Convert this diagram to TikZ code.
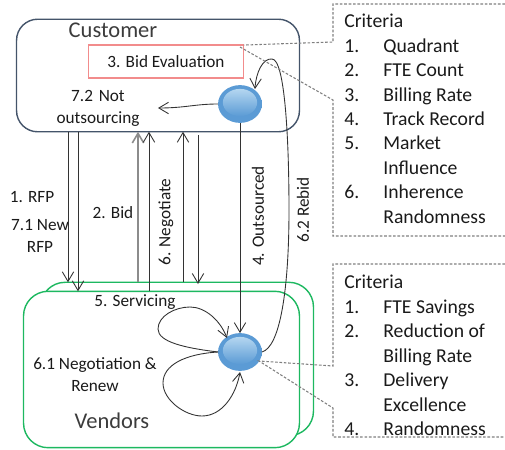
\documentclass[tikz,border=0pt]{standalone}
\usepackage{fontspec}
\setmainfont{Carlito}
\usetikzlibrary{arrows.meta, shapes.geometric}
\definecolor{custline}{HTML}{44546A}
\definecolor{vendline}{HTML}{1DB860}
\definecolor{bidline}{HTML}{F28C8C}
\definecolor{callline}{HTML}{7F7F7F}
\definecolor{txt}{HTML}{1A1A1A}
\definecolor{ballmid}{HTML}{5B9BD5}
\definecolor{ballrim}{HTML}{3F78AB}
\definecolor{balldark}{HTML}{1F4566}
\definecolor{ballshine}{HTML}{B4D6F0}
\pgfdeclareradialshading{ballshade}{\pgfpoint{0bp}{6bp}}{
  color(0bp)=(ballmid); color(30bp)=(ballmid); color(42bp)=(ballrim); color(54bp)=(balldark); color(70bp)=(balldark)}
\tikzset{
  boxtext/.style={font=\fontsize{9.8pt}{12pt}\selectfont, text=txt, align=center, inner sep=0pt},
  bigtext/.style={font=\fontsize{12.8pt}{15pt}\selectfont, text=txt!85, inner sep=0pt},
  crittext/.style={font=\fontsize{11.2pt}{14pt}\selectfont, text=txt, anchor=base west, inner sep=0pt},
  sidetext/.style={boxtext, rotate=90},
  flow/.style={draw=black!80, line width=0.5pt, -{Straight Barb[length=5.5pt,width=6.5pt]}},
  noflow/.style={draw=black!80, line width=0.5pt},
  callout/.style={draw=callline, line width=0.6pt, dash pattern=on 1.5pt off 1pt},
  ball/.style={ellipse, minimum width=25pt, minimum height=21.5pt, inner sep=0pt, outer sep=0pt, shading=ballshade},
  ballcore/.style={ellipse, minimum width=19.5pt, minimum height=15.5pt, inner sep=0pt, top color=ballshine, middle color=ballmid, bottom color=ballmid, shading angle=0},
  vendbox/.style={draw=vendline, line width=0.8pt, fill=white, rounded corners=14pt, inner sep=0pt, outer sep=0pt}
}
\begin{document}
\begin{tikzpicture}[x=0.02cm, y=-0.02cm]
  \useasboundingbox (0,0) rectangle (505,450);
  % boxes
  \node[draw=custline, line width=0.8pt, rounded corners=12pt, minimum width=284*0.567pt, minimum height=113*0.567pt, inner sep=0pt, outer sep=0pt] (customer) at (158,75.5) {};
  \node[draw=bidline, line width=0.7pt, minimum width=156*0.567pt, minimum height=33*0.567pt, inner sep=0pt, outer sep=0pt] (bidbox) at (166,61.5) {};
  \node[boxtext] (bidtext) at (166,62) {3. Bid Evaluation};
  \node[vendbox, minimum width=274*0.567pt, minimum height=154*0.567pt] (vendback) at (177,359) {};
  \node[vendbox, minimum width=277*0.567pt, minimum height=157*0.567pt] (vendfront) at (161.5,369.5) {};
  \node[ball] (evalball) at (240,104) {};
  \node[ballcore] (evalcore) at (240,102.5) {};
  \node[ball] (vendball) at (240,352) {};
  \node[ballcore] (vendcore) at (240,350.5) {};

  % labels
  \node[bigtext] (custname) at (113,30) {Customer};
  \node[bigtext] (vendname) at (112,421) {Vendors};
  \node[boxtext, text width=90pt] (notout) at (98,108.5) {7.2 Not\\[0.5pt]outsourcing};
  \node[boxtext] (rfp) at (32,197) {1. RFP};
  \node[boxtext] (newrfp) at (40,235.5) {7.1 New\\[0.5pt]RFP};
  \node[boxtext] (bid) at (113,213) {2. Bid};
  \node[boxtext] (servicing) at (135,302) {5. Servicing};
  \node[boxtext] (renew) at (95,374.5) {6.1 Negotiation \&\\[0.5pt]Renew};
  \node[sidetext] (negotiate) at (166,222) {6. Negotiate};
  \node[sidetext] (outsourced) at (258,216) {4. Outsourced};
  \node[sidetext] (rebid) at (303,210) {6.2 Rebid};

  % arrows between the two boxes
  \draw[flow] (customer.south -| 68,0) -- (vendback.north -| 68,0);
  \draw[flow] (customer.south -| 78,0) -- (vendfront.north -| 78,0);
  \draw[-{Straight Barb[length=5.5pt,width=6.5pt]}, draw=black!45, line width=0.9pt] (vendback.north -| 138,0) -- (customer.south -| 138,0);
  \draw[flow] (vendfront.north -| 149,0) -- (customer.south -| 149,0);
  \draw[flow] (vendback.north -| 183,0) -- (customer.south -| 183,0);
  \coordinate (negstart) at (198,135);
  \coordinate (negend) at (198,284);
  \draw[flow] (negstart) -- (negend);
  \draw[flow] (evalball.south) -- (vendball.north);
  \coordinate (notend) at (158,108);
  \draw[flow] (evalball.west) .. controls (195,104) and (185,108) .. (notend);

  % loops
  \coordinate (rebidtop) at (272,59);
  \coordinate (rebidmid) at (289,210);
  \draw[noflow] (vendball.east) .. controls (280,347) and (289,290) .. (rebidmid)
     .. controls (289,140) and (285,59) .. (rebidtop);
  \draw[flow] (rebidtop) .. controls (263,58) and (256,72) .. (255,89);
  \coordinate (upperloop) at (227,338);
  \coordinate (lowerloop) at (240,372);
  \draw[flow] (vendball.west) .. controls (185,348) and (158,342) .. (158,329)
     .. controls (158,316) and (175,307) .. (190,307) .. controls (205,307) and (220,320) .. (upperloop);
  \draw[flow] (vendball.west) .. controls (185,354) and (163,365) .. (163,383)
     .. controls (163,400) and (185,416) .. (202,416) .. controls (222,416) and (236,395) .. (lowerloop);

  % callouts
  \coordinate (topa) at (505,4);
  \coordinate (topb) at (333,4);
  \coordinate (topc) at (333,42);
  \coordinate (topd) at (333,100);
  \coordinate (tope) at (333,236);
  \coordinate (topf) at (505,236);
  \coordinate (topg) at (240,47);
  \draw[callout] (topa) -- (topb) -- (topc) -- (bidbox.north east);
  \draw[callout] (topg) -- (topd) -- (tope) -- (topf);
  \coordinate (lowa) at (505,264);
  \coordinate (lowb) at (333,264);
  \coordinate (lowc) at (333,366);
  \coordinate (lowd) at (259,361);
  \coordinate (lowe) at (333,408);
  \coordinate (lowf) at (333,437);
  \coordinate (lowg) at (505,437);
  \draw[callout] (lowa) -- (lowb) -- (lowc) -- (lowd) -- (lowe) -- (lowf) -- (lowg);

  % criteria lists
  \node[crittext] (topcrit) at (344,27) {Criteria};
  \foreach \y/\n/\t [count=\i] in {52/1./Quadrant, 76.5/2./FTE Count, 101/3./Billing Rate, 125.5/4./Track Record, 149.5/5./Market, 174//Influence, 198.5/6./Inherence, 223//Randomness}{
    \node[crittext] (topnum\i) at (344,\y) {\n};
    \node[crittext] (toptxt\i) at (383,\y) {\t};
  }
  \node[crittext] (lowcrit) at (344,288) {Criteria};
  \foreach \y/\n/\t [count=\i] in {313/1./FTE Savings, 337.5/2./Reduction of, 362//Billing Rate, 386.5/3./Delivery, 411//Excellence, 435/4./Randomness}{
    \node[crittext] (lownum\i) at (344,\y) {\n};
    \node[crittext] (lowtxt\i) at (383,\y) {\t};
  }
\end{tikzpicture}
\end{document}
